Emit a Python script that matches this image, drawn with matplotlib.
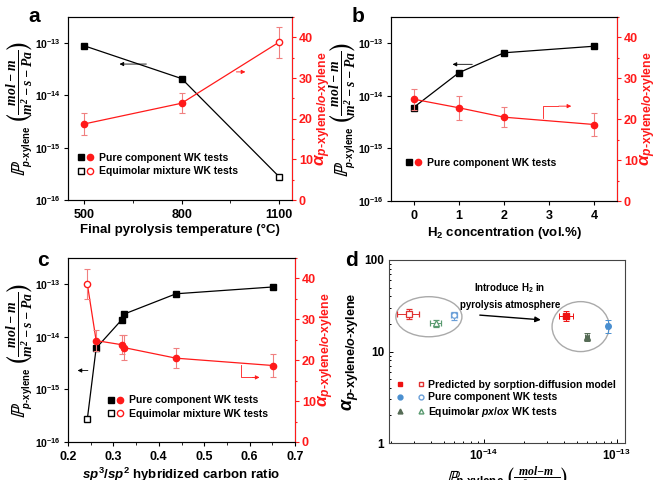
import matplotlib
matplotlib.use('Agg')
import math
import matplotlib.pyplot as plt
import matplotlib.ticker as mticker
from matplotlib.legend_handler import HandlerTuple
from matplotlib.lines import Line2D
from matplotlib.patches import Ellipse

plt.rcParams['font.family'] = ['Liberation Sans', 'DejaVu Sans']
plt.rcParams['font.weight'] = 'bold'
plt.rcParams['axes.labelweight'] = 'bold'
plt.rcParams['mathtext.fontset'] = 'custom'
plt.rcParams['mathtext.rm'] = 'Liberation Sans:bold'
plt.rcParams['mathtext.bf'] = 'Liberation Sans:bold'
plt.rcParams['mathtext.it'] = 'Liberation Sans:italic:bold'
plt.rcParams['mathtext.bfit'] = 'Liberation Serif:italic:bold'
plt.rcParams['mathtext.sf'] = 'Liberation Sans:bold'
plt.rcParams['mathtext.fallback'] = 'stix'

RED = '#ff1a1a'
RED_ERR = '#f08080'

# ---- panel a: pyrolysis temperature
temp = [500, 800, 1100]
perm_a = [8.9e-14, 2.1e-14, 2.8e-16]
sel_a = [18.7, 23.8, 38.8]
sel_a_err = [2.7, 2.4, 3.8]

# ---- panel b: H2 concentration
h2 = [0, 1, 2, 4]
perm_b = [6.0e-15, 2.75e-14, 6.6e-14, 8.8e-14]
sel_b = [24.9, 22.8, 20.5, 18.7]
sel_b_err = [2.6, 3.0, 2.4, 2.8]

# ---- panel c: sp3/sp2 ratio
ratio = [0.2425, 0.262, 0.318, 0.323, 0.438, 0.652]
perm_c = [2.7e-16, 6.1e-15, 2.1e-14, 2.7e-14, 6.6e-14, 8.9e-14]
sel_c = [38.7, 24.8, 23.8, 23.1, 20.5, 18.7]
sel_c_err = [3.7, 2.6, 2.4, 3.0, 2.4, 2.8]

# ---- panel d: selectivity vs permeability (open = before H2, filled = with H2)
d_names = ['Predicted by sorption-diffusion model', 'Pure component WK tests',
           'Equimolar $\\mathit{px}$/$\\mathit{ox}$ WK tests']
d_open_x = [2.73e-15, 5.94e-15, 4.35e-15]
d_open_y = [26.0, 24.8, 20.3]
d_open_xerr = [0.5e-15, 0.3e-15, 0.4e-15]
d_open_yerr = [3.5, 2.5, 1.6]
d_fill_x = [4.14e-14, 8.5e-14, 5.94e-14]
d_fill_y = [24.4, 19.0, 14.5]
d_fill_xerr = [0.5e-14, 0.2e-14, 0.2e-14]
d_fill_yerr = [3.0, 3.0, 1.5]
d_colors = ['#ee1111', '#4a8fd0', '#556b55']
d_open_colors = ['#e03030', '#6a9fd8', '#5a9a70']
d_markers = ['s', 'o', '^']

PLABEL = (r'$\mathbb{P}_{{}_{\mathit{p}\mathrm{\text{-}xylene}}}\,'
          r'\genfrac{(}{)}{0.6}{1}{\mathbfit{mol-m}}{\mathbfit{m^2-s-Pa}}$')
PLABEL_D = (r'$\mathbb{P}_{\mathit{p}\mathrm{\text{-}xylene}}\,'
            r'\genfrac{(}{)}{0.6}{1}{\mathbfit{mol{-}m}}{\mathbfit{m^2{-}s{-}Pa}}$')
ALABEL = r'$\alpha_{\mathit{p}\mathrm{\text{-}xylene/}\mathit{o}\mathrm{\text{-}xylene}}$'

fig = plt.figure(figsize=(6.55, 4.8), dpi=100)


def pow_label(v, pos):
    return r'$\mathbf{10^{%d}}$' % round(math.log10(v))


def setup_left(ax):
    ax.set_yscale('log')
    ax.set_ylim(1e-16, 10 ** -12.5)
    ax.yaxis.set_major_locator(mticker.FixedLocator([1e-16, 1e-15, 1e-14, 1e-13]))
    ax.yaxis.set_major_formatter(mticker.FuncFormatter(pow_label))
    ax.yaxis.set_minor_locator(mticker.NullLocator())
    ax.set_ylabel(PLABEL, fontsize=14, labelpad=0)
    ax.tick_params(labelsize=9, length=3, width=0.8)
    ax.tick_params(axis='y', labelsize=7.5, pad=2)
    for sp in ax.spines.values():
        sp.set_color('#444444')


def setup_right(ax2):
    ax2.set_ylim(0, 45)
    ax2.yaxis.set_major_locator(mticker.MultipleLocator(10))
    ax2.yaxis.set_minor_locator(mticker.MultipleLocator(5))
    ax2.spines['right'].set_color(RED)
    ax2.tick_params(axis='y', which='both', colors=RED, labelsize=9, width=0.8, pad=2)
    ax2.tick_params(axis='y', which='major', length=3)
    ax2.tick_params(axis='y', which='minor', length=1.5)
    ax2.set_ylabel(ALABEL, color=RED, fontsize=12.5, labelpad=0)


def pair_legend(ax, entries, anchor):
    handles = []
    labels = []
    for filled, lab in entries:
        if filled:
            h = (Line2D([], [], marker='s', color='k', ls='none', ms=4),
                 Line2D([], [], marker='o', color=RED, ls='none', ms=4.5))
        else:
            h = (Line2D([], [], marker='s', mfc='white', mec='k', ls='none', ms=4),
                 Line2D([], [], marker='o', mfc='white', mec=RED, ls='none', ms=4.5))
        handles.append(h)
        labels.append(lab)
    ax.legend(handles, labels, handler_map={tuple: HandlerTuple(ndivide=None, pad=0.1)},
              loc='lower left', bbox_to_anchor=anchor, frameon=False, fontsize=7.5,
              handlelength=1.6, handletextpad=0.5, labelspacing=0.35, borderpad=0.2)


# ================= panel a
ax = fig.add_axes([68 / 655, 1 - 200 / 480, 224 / 655, 183 / 480])
setup_left(ax)
ax.plot(temp, perm_a, color='k', lw=0.9, zorder=3)
ax.plot(temp[:2], perm_a[:2], 's', color='k', ms=4, zorder=4)
ax.plot(temp[2:], perm_a[2:], 's', mfc='white', mec='k', ms=4, zorder=4)
ax.set_xlim(450, 1140)
ax.set_xticks(temp)
ax.xaxis.set_minor_locator(mticker.FixedLocator([650, 950]))
ax.tick_params(axis='x', which='minor', length=2)
ax.set_xlabel('Final pyrolysis temperature (°C)', fontsize=9.5, labelpad=2)
ax2 = ax.twinx()
setup_right(ax2)
ax2.plot(temp, sel_a, color=RED, lw=0.9)
ax2.errorbar(temp[:2], sel_a[:2], yerr=sel_a_err[:2], fmt='o', color=RED, ms=4.5,
             ecolor=RED_ERR, elinewidth=0.8, capsize=2.5, capthick=0.8)
ax2.errorbar(temp[2:], sel_a[2:], yerr=sel_a_err[2:], fmt='o', mfc='white', mec=RED, ms=4.5,
             ecolor=RED_ERR, elinewidth=0.8, capsize=2.5, capthick=0.8)
ax.annotate('', xy=(600, 10 ** -13.4), xytext=(700, 10 ** -13.4),
            arrowprops=dict(arrowstyle='-|>', color='k', lw=0.6, mutation_scale=6))
ax2.annotate('', xy=(1005, 31.5), xytext=(960, 31.5),
             arrowprops=dict(arrowstyle='-|>', color=RED, lw=0.6, mutation_scale=6))
pair_legend(ax, [(True, 'Pure component WK tests'), (False, 'Equimolar mixture WK tests')],
            (0.01, 0.09))
fig.text(28 / 655, 1 - 17 / 480, 'a', fontsize=15, fontweight='bold', va='center')

# ================= panel b
ax = fig.add_axes([391 / 655, 1 - 201 / 480, 226 / 655, 184 / 480])
setup_left(ax)
ax.plot(h2, perm_b, 's-', color='k', lw=0.9, ms=4, zorder=4)
ax.set_xlim(-0.5, 4.5)
ax.set_xticks([0, 1, 2, 3, 4])
ax.set_xlabel('H$_2$ concentration (vol.%)', fontsize=9.5, labelpad=2)
ax2 = ax.twinx()
setup_right(ax2)
ax2.plot(h2, sel_b, color=RED, lw=0.9)
ax2.errorbar(h2, sel_b, yerr=sel_b_err, fmt='o', color=RED, ms=4.5,
             ecolor=RED_ERR, elinewidth=0.8, capsize=2.5, capthick=0.8)
ax.annotate('', xy=(0.8, 10 ** -13.4), xytext=(1.36, 10 ** -13.4),
            arrowprops=dict(arrowstyle='-|>', color='k', lw=0.6, mutation_scale=6))
ax2.plot([2.87, 2.87, 3.2], [20.2, 23.2, 23.2], color=RED, lw=0.6)
ax2.annotate('', xy=(3.55, 23.2), xytext=(3.15, 23.2),
             arrowprops=dict(arrowstyle='-|>', color=RED, lw=0.6, mutation_scale=6))
pair_legend(ax, [(True, 'Pure component WK tests')], (0.03, 0.14))
fig.text(352 / 655, 1 - 16 / 480, 'b', fontsize=15, fontweight='bold', va='center')

# ================= panel c
ax = fig.add_axes([68 / 655, 1 - 442 / 480, 227 / 655, 184 / 480])
setup_left(ax)
ax.plot(ratio, perm_c, color='k', lw=0.9, zorder=3)
ax.plot(ratio[1:], perm_c[1:], 's', color='k', ms=4, zorder=4)
ax.plot(ratio[:1], perm_c[:1], 's', mfc='white', mec='k', ms=4, zorder=4)
ax.set_xlim(0.2, 0.7)
ax.xaxis.set_major_locator(mticker.MultipleLocator(0.1))
ax.xaxis.set_minor_locator(mticker.MultipleLocator(0.05))
ax.tick_params(axis='x', which='minor', length=2)
ax.set_xlabel(r'$\mathit{sp}^{\mathbf{3}}$/$\mathit{sp}^{\mathbf{2}}$ hybridized carbon ratio',
              fontsize=9.5, labelpad=2)
ax2 = ax.twinx()
setup_right(ax2)
ax2.plot(ratio, sel_c, color=RED, lw=0.9)
ax2.errorbar(ratio[1:], sel_c[1:], yerr=sel_c_err[1:], fmt='o', color=RED, ms=4.5,
             ecolor=RED_ERR, elinewidth=0.8, capsize=2.5, capthick=0.8)
ax2.errorbar(ratio[:1], sel_c[:1], yerr=sel_c_err[:1], fmt='o', mfc='white', mec=RED, ms=4.5,
             ecolor=RED_ERR, elinewidth=0.8, capsize=2.5, capthick=0.8)
ax.annotate('', xy=(0.215, 10 ** -14.64), xytext=(0.25, 10 ** -14.64),
            arrowprops=dict(arrowstyle='-|>', color='k', lw=0.6, mutation_scale=6))
ax2.plot([0.582, 0.582, 0.61], [18.9, 15.8, 15.8], color=RED, lw=0.6)
ax2.annotate('', xy=(0.628, 15.8), xytext=(0.6, 15.8),
             arrowprops=dict(arrowstyle='-|>', color=RED, lw=0.6, mutation_scale=6))
pair_legend(ax, [(True, 'Pure component WK tests'), (False, 'Equimolar mixture WK tests')],
            (0.14, 0.085))
fig.text(37 / 655, 1 - 260 / 480, 'c', fontsize=15, fontweight='bold', va='center')

# ================= panel d
ax = fig.add_axes([389 / 655, 1 - 443 / 480, 236 / 655, 183 / 480])
ax.set_xscale('log')
ax.set_yscale('log')
ax.set_xlim(1.93e-15, 1.15e-13)
ax.set_ylim(1, 100)
ax.xaxis.set_major_locator(mticker.FixedLocator([1e-14, 1e-13]))
ax.xaxis.set_major_formatter(mticker.FuncFormatter(pow_label))
ax.xaxis.set_minor_locator(mticker.LogLocator(subs=range(2, 10)))
ax.xaxis.set_minor_formatter(mticker.NullFormatter())
ax.yaxis.set_major_locator(mticker.FixedLocator([1, 10, 100]))
ax.yaxis.set_major_formatter(mticker.FixedFormatter(['1', '10', '100']))
ax.yaxis.set_minor_locator(mticker.LogLocator(subs=range(2, 10)))
ax.yaxis.set_minor_formatter(mticker.NullFormatter())
ax.tick_params(which='both', direction='in', labelsize=8.5, width=0.7)
ax.tick_params(which='major', length=3)
ax.tick_params(which='minor', length=1.5)
for sp in ax.spines.values():
    sp.set_color('#444444')
handles = []
for i in range(3):
    ax.errorbar(d_open_x[i], d_open_y[i], xerr=d_open_xerr[i], yerr=d_open_yerr[i],
                fmt=d_markers[i], mfc='white', mec=d_open_colors[i], ms=4, mew=0.9,
                ecolor=d_open_colors[i], elinewidth=0.7, capsize=2, capthick=0.7)
    ax.errorbar(d_fill_x[i], d_fill_y[i], xerr=d_fill_xerr[i], yerr=d_fill_yerr[i],
                fmt=d_markers[i], color=d_colors[i], ms=4,
                ecolor=d_colors[i], elinewidth=0.7, capsize=2, capthick=0.7)
    handles.append((Line2D([], [], marker=d_markers[i], color=d_colors[i], ls='none', ms=3.5),
                    Line2D([], [], marker=d_markers[i], mfc='white', mec=d_open_colors[i],
                           ls='none', ms=3.5)))
ax.legend(handles, d_names, handler_map={tuple: HandlerTuple(ndivide=None, pad=1.7)},
          loc='lower left', bbox_to_anchor=(0.0, 0.08), frameon=False, fontsize=7.5,
          handlelength=2.3, handletextpad=0.5, labelspacing=0.25)
ax.add_patch(Ellipse((0.169, 0.690), 0.28, 0.219, transform=ax.transAxes,
                     fill=False, ec='#aaaaaa', lw=1.0))
ax.add_patch(Ellipse((0.812, 0.636), 0.242, 0.273, transform=ax.transAxes,
                     fill=False, ec='#aaaaaa', lw=1.0))
ax.annotate('', xy=(0.655, 0.672), xytext=(0.373, 0.700), xycoords='axes fraction',
            arrowprops=dict(arrowstyle='-|>', color='k', lw=1.0, mutation_scale=8))
ax.text(0.513, 0.849, 'Introduce H$_2$ in', transform=ax.transAxes, ha='center',
        va='center', fontsize=7)
ax.text(0.513, 0.754, 'pyrolysis atmosphere', transform=ax.transAxes, ha='center',
        va='center', fontsize=7)
ax.set_ylabel(ALABEL, fontsize=13, labelpad=2)
ax.set_xlabel(PLABEL_D, fontsize=12, labelpad=1)
fig.text(345 / 655, 1 - 260 / 480, 'd', fontsize=15, fontweight='bold', va='center')

fig.savefig('out.png', dpi=100)
